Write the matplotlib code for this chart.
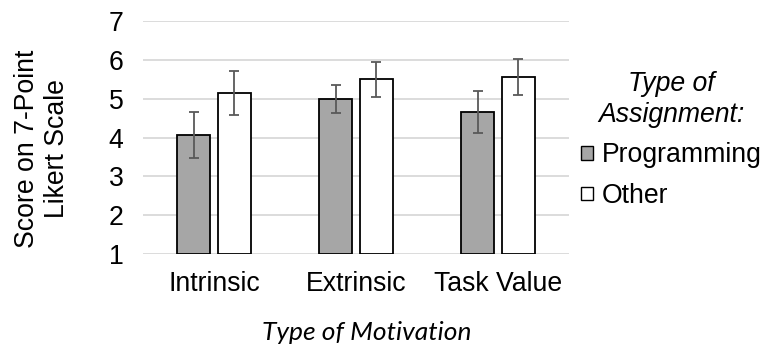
import matplotlib.pyplot as plt
import matplotlib.patches as mpatches
import numpy as np

plt.rcParams['font.family'] = ['Liberation Sans', 'DejaVu Sans']

categories = ['Intrinsic', 'Extrinsic', 'Task Value']
programming = [4.06, 4.98, 4.66]
programming_err = [0.59, 0.36, 0.55]
other = [5.14, 5.50, 5.55]
other_err = [0.56, 0.45, 0.46]
yticks = [1, 2, 3, 4, 5, 6, 7]

fs = 19.2

fig = plt.figure(figsize=(7.63, 3.56), dpi=100)
ax = fig.add_axes([0.1874, 0.2865, 0.7457 - 0.1874, 0.941 - 0.2865])

x = np.arange(len(categories))
width = 0.23
off = 0.143
err_kw = dict(ecolor='#595959', elinewidth=1.3, capsize=3.6, capthick=1.3)

# bars start at the axis floor (1) rather than 0
ax.bar(x - off, np.array(programming) - 1, width, bottom=1, color='#a6a6a6',
       edgecolor='black', linewidth=1.3, yerr=programming_err, error_kw=err_kw,
       zorder=3)
ax.bar(x + off, np.array(other) - 1, width, bottom=1, color='white',
       edgecolor='black', linewidth=1.3, yerr=other_err, error_kw=err_kw,
       zorder=3)

ax.set_xlim(-0.5, 2.5)
ax.set_ylim(1, 7)
ax.set_yticks(yticks)
ax.set_xticks(x)
ax.set_xticklabels(categories)
ax.tick_params(length=0, labelsize=fs, colors='black', pad=12)
ax.tick_params(axis='y', pad=14)
ax.yaxis.grid(True, color='#d9d9d9', linewidth=1.3, zorder=0)
for s in ax.spines.values():
    s.set_visible(False)

fig.text(0.055, 0.583, 'Score on 7-Point\nLikert Scale', rotation=90,
         ha='center', va='center', fontsize=fs, linespacing=1.2)
fig.text(0.481, 0.065, 'Type of Motivation', ha='center', va='center',
         fontsize=19, style='italic', family='Lato')

handles = [mpatches.Patch(facecolor='#a6a6a6', edgecolor='black', lw=1.0),
           mpatches.Patch(facecolor='white', edgecolor='black', lw=1.0)]
leg = fig.legend(handles, ['Programming', 'Other'], loc='upper left',
                 bbox_to_anchor=(0.762, 0.80), frameon=False, fontsize=fs,
                 title='Type of\nAssignment:', handlelength=0.42,
                 handleheight=0.42, handletextpad=0.35, labelspacing=0.55,
                 borderaxespad=0, borderpad=0)
leg.get_title().set_fontsize(fs)
leg.get_title().set_style('italic')
leg.get_title().set_multialignment('center')
leg.get_title().set_linespacing(1.22)

fig.savefig('out.png', dpi=100)
